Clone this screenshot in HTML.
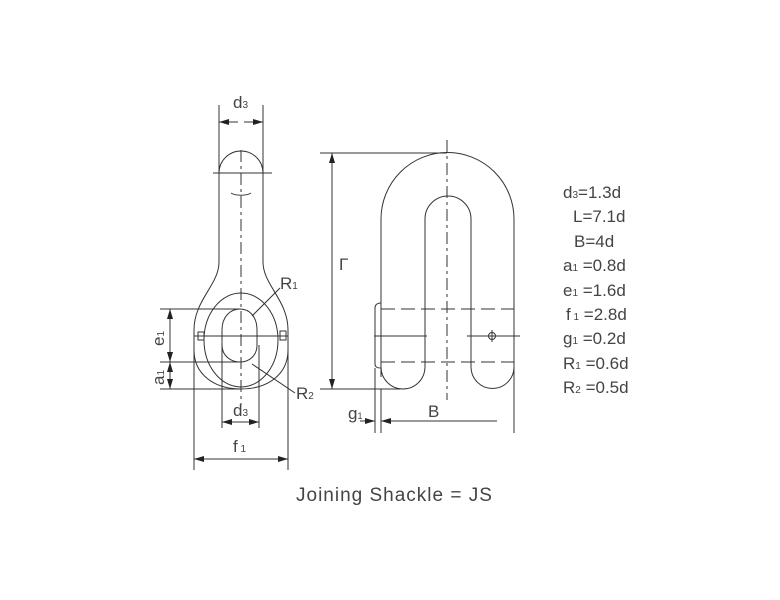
<!DOCTYPE html>
<html><head><style>
html,body{margin:0;padding:0;background:#fff}
svg{display:block}
text{font-family:"Liberation Sans",sans-serif;fill:#444;font-weight:normal}
</style></head><body>
<svg width="780" height="600" viewBox="0 0 780 600" xmlns="http://www.w3.org/2000/svg">
<defs>
<marker id="a" viewBox="0 0 10 6" refX="10" refY="3" markerWidth="10" markerHeight="6" orient="auto-start-reverse" markerUnits="userSpaceOnUse"><path d="M0,0L10,3L0,6z" fill="#222"/></marker>
</defs>
<g fill="none" stroke="#333" stroke-width="1">
<line x1="219" y1="105" x2="219" y2="173"/><line x1="263" y1="105" x2="263" y2="173"/>
<line x1="219" y1="122" x2="238" y2="122" marker-start="url(#a)"/>
<line x1="244" y1="122" x2="263" y2="122" marker-end="url(#a)"/>
<path d="M219,173 A22,22 0 0,1 263,173"/>
<path d="M231,193 A12,5 0 0,0 251,193"/>
<line x1="213" y1="173" x2="272" y2="173"/>
<path d="M219,173 L219,262 C219,285 194,300 194,330 L194,350 C194,375 215,389 241,389 C267,389 288,375 288,350 L288,330 C288,300 263,285 263,262 L263,173"/>
<ellipse cx="241" cy="340" rx="37" ry="47"/>
<path d="M222,330 C222,316 231,309 240,309 C249,309 257,316 257,330 L257,345 C257,356 249,362 240,362 C231,362 222,356 222,345 Z"/>
<rect x="198" y="332" width="6" height="8"/><rect x="280" y="331" width="6" height="9"/>
<line x1="194" y1="336" x2="288" y2="336"/>
<line x1="241" y1="150" x2="241" y2="405" stroke-dasharray="12,4,3,4"/>
<line x1="160" y1="309" x2="241" y2="309"/>
<line x1="160" y1="362" x2="241" y2="362"/>
<line x1="160" y1="389" x2="241" y2="389"/>
<line x1="170" y1="309" x2="170" y2="362" marker-start="url(#a)" marker-end="url(#a)"/>
<line x1="170" y1="362" x2="170" y2="389" marker-start="url(#a)" marker-end="url(#a)"/>
<line x1="222" y1="345" x2="222" y2="428"/><line x1="259" y1="345" x2="259" y2="428"/>
<line x1="222" y1="422" x2="259" y2="422" marker-start="url(#a)" marker-end="url(#a)"/>
<line x1="194" y1="340" x2="194" y2="470"/><line x1="288" y1="340" x2="288" y2="470"/>
<line x1="194" y1="459" x2="288" y2="459" marker-start="url(#a)" marker-end="url(#a)"/>
<line x1="252" y1="316" x2="280" y2="288"/>
<line x1="252" y1="364" x2="295" y2="393"/>
<line x1="320" y1="153" x2="447" y2="153"/>
<line x1="320" y1="389" x2="400" y2="389"/>
<line x1="332" y1="153" x2="332" y2="389" marker-start="url(#a)" marker-end="url(#a)"/>
<path d="M381,377 L381,219 A66.5,66.5 0 0,1 514,219 L514,377"/>
<path d="M381,367 A22,22 0 0,0 425,367 L425,219 A23,23 0 0,1 471,219 L471,367 A21.5,21.5 0 0,0 514,367"/>
<line x1="447" y1="140" x2="447" y2="400" stroke-dasharray="12,4,3,4"/>
<line x1="381" y1="309" x2="514" y2="309" stroke-dasharray="14,6"/>
<line x1="381" y1="362" x2="514" y2="362" stroke-dasharray="14,6"/>
<line x1="374" y1="336" x2="427" y2="336"/><line x1="467" y1="336" x2="520" y2="336"/>
<circle cx="492" cy="336" r="3.5"/><line x1="492" y1="330" x2="492" y2="342"/>
<path d="M381,303 C377,303 375,305 375,308 L375,364 C375,367 377,368 381,368"/>
<line x1="375" y1="368" x2="375" y2="433"/><line x1="381" y1="389" x2="381" y2="433"/><line x1="514" y1="377" x2="514" y2="433"/>
<line x1="360" y1="421" x2="375" y2="421" marker-end="url(#a)"/>
<line x1="381" y1="421" x2="497" y2="421" marker-start="url(#a)"/>
</g>
<g font-size="17">
<text x="233" y="108">d<tspan font-size="10">3</tspan></text>
<text x="280" y="289">R<tspan font-size="10">1</tspan></text>
<text x="296" y="399">R<tspan font-size="10">2</tspan></text>
<text x="233" y="416">d<tspan font-size="10">3</tspan></text>
<text x="233" y="452">f<tspan font-size="10"> 1</tspan></text>
<text x="0" y="0" transform="translate(164,346) rotate(-90)">e<tspan font-size="10">1</tspan></text>
<text x="0" y="0" transform="translate(164,385) rotate(-90)">a<tspan font-size="10">1</tspan></text>
<text x="348" y="419">g<tspan font-size="9">1</tspan></text>
<text x="428" y="417">B</text>
<text x="339" y="270">Γ</text>
<text x="563" y="198">d<tspan font-size="10">3</tspan>=1.3d</text>
<text x="573" y="222">L=7.1d</text>
<text x="574" y="247">B=4d</text>
<text x="563" y="271">a<tspan font-size="10">1</tspan> =0.8d</text>
<text x="563" y="296">e<tspan font-size="10">1</tspan> =1.6d</text>
<text x="566" y="320">f<tspan font-size="10"> 1</tspan> =2.8d</text>
<text x="563" y="344">g<tspan font-size="10">1</tspan> =0.2d</text>
<text x="563" y="369">R<tspan font-size="10">1</tspan> =0.6d</text>
<text x="563" y="393">R<tspan font-size="10">2</tspan> =0.5d</text>
<text x="296" y="501" font-size="19" letter-spacing="1">Joining Shackle = JS</text>
</g>
</svg>
</body></html>
